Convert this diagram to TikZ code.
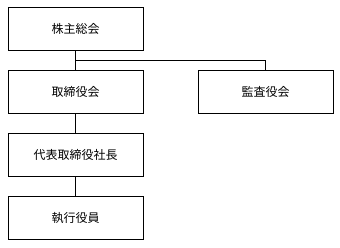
\documentclass[tikz,border=0pt]{standalone}
\usepackage{fontspec}
\setmainfont{Noto Sans CJK JP}
\usetikzlibrary{calc}
\begin{document}
\begin{tikzpicture}[x=1pt,y=-1pt,
  orgbox/.style={draw=black,line width=0.9pt,minimum width=135pt,minimum height=43pt,inner sep=0pt,font=\fontsize{12}{14}\selectfont},
  link/.style={draw=black,line width=0.9pt}]
\useasboundingbox (0,0) rectangle (340,247);
\node[orgbox] (A) at (75.5,28.5) {株主総会};
\node[orgbox] (B) at (75.5,91.5) {取締役会};
\node[orgbox] (C) at (265.5,91.5) {監査役会};
\node[orgbox] (D) at (75.5,154.5) {代表取締役社長};
\node[orgbox] (E) at (75.5,218) {執行役員};
\coordinate (J) at ($(A.south)!0.5!(B.north)$);
\draw[link] (A.south) -- (B.north);
\draw[link] (J) -| (C.north);
\draw[link] (B.south) -- (D.north);
\draw[link] (D.south) -- (E.north);
\end{tikzpicture}
\end{document}
